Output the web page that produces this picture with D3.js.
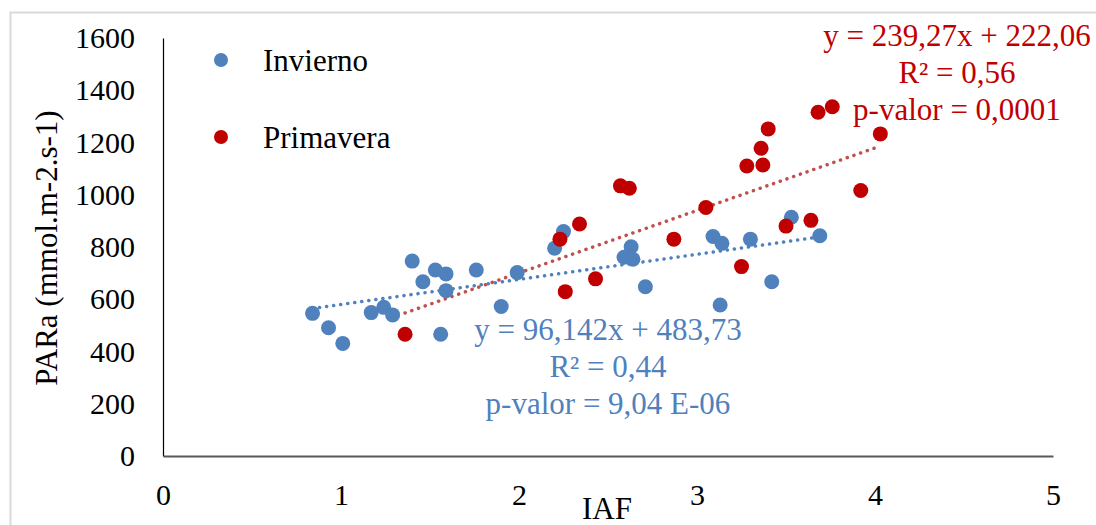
<!DOCTYPE html>
<html lang="es">
<head>
<meta charset="UTF-8" />
<title>PARa vs IAF</title>
<script src="https://cdn.jsdelivr.net/npm/d3@7"></script>
<style>
  body { margin: 0; background: #fff; }
  svg { display: block; }
  svg text { font-family: "Liberation Serif", "Times New Roman", serif; }
  .tick-label { font-size: 30px; fill: #000; }
</style>
</head>
<body>
<svg id="chart"></svg>
<script>
// ---- data ----
const inviernoIAF = [0.84, 0.93, 1.01, 1.17, 1.24, 1.29, 1.40, 1.46, 1.53, 1.59, 1.59, 1.76, 1.56, 1.90,
                     1.99, 2.20, 2.25, 2.63, 2.59, 2.64, 2.71, 3.09, 3.14, 3.30, 3.42, 3.13, 3.53, 3.69];
const inviernoPAR = [546, 491, 431, 549, 569, 540, 746, 667, 712, 697, 633, 712, 466, 572,
                     702, 795, 859, 801, 761, 753, 648, 840, 814, 830, 667, 578, 914, 843];

const primaveraIAF = [1.36, 2.23, 2.34, 2.26, 2.43, 2.57, 2.62, 2.87, 3.05, 3.25,
                      3.28, 3.37, 3.36, 3.40, 3.50, 3.64, 3.68, 3.76, 4.03, 3.92];
const primaveraPAR = [466, 830, 888, 629, 678, 1034, 1025, 830, 951, 725,
                      1110, 1114, 1178, 1252, 880, 902, 1316, 1337, 1233, 1016];

const seriesNames = ["Invierno", "Primavera"];
// trend line coefficients as printed on the chart
const inviernoFit = { slope: 96.142, intercept: 483.73 };
const primaveraFit = { slope: 239.27, intercept: 222.06 };
const inviernoLabels = ["y = 96,142x + 483,73", "R² = 0,44", "p-valor = 9,04 E-06"];
const primaveraLabels = ["y = 239,27x + 222,06", "R² = 0,56", "p-valor = 0,0001"];

const xTicks = [0, 1, 2, 3, 4, 5];
const yTicks = [0, 200, 400, 600, 800, 1000, 1200, 1400, 1600];

// ---- setup ----
const width = 1096, height = 525;
const blue = "#4F81BD", red = "#C00000";
const serif = "'Liberation Serif', 'Times New Roman', serif";
const svg = d3.select("#chart").attr("width", width).attr("height", height);

// chart area border (only left/top visible in the window)
svg.append("rect")
  .attr("x", 10.5).attr("y", 12.5)
  .attr("width", 1200).attr("height", 700)
  .attr("fill", "none").attr("stroke", "#d9d9d9").attr("stroke-width", 2);

const x = d3.scaleLinear().domain([0, 5]).range([163, 1053]);
const y = d3.scaleLinear().domain([0, 1600]).range([456, 38]);

// axes
const yAxis = svg.append("g")
  .attr("transform", `translate(${x(0)},0)`)
  .call(d3.axisLeft(y).tickValues(yTicks).tickFormat(d3.format("d")).tickSize(0).tickPadding(28));
yAxis.attr("font-family", serif).attr("font-size", 30);
yAxis.select(".domain").attr("stroke", "#000").attr("stroke-width", 1.2);
yAxis.selectAll("text").attr("class", "tick-label").attr("font-family", serif);

const xAxis = svg.append("g")
  .attr("transform", `translate(0,${y(0)})`)
  .call(d3.axisBottom(x).tickValues(xTicks).tickFormat(d3.format("d")).tickSize(0).tickPadding(28));
xAxis.attr("font-family", serif).attr("font-size", 30);
xAxis.select(".domain").attr("stroke", "#595959").attr("stroke-width", 1.8);
xAxis.selectAll("text").attr("class", "tick-label").attr("font-family", serif);

// axis titles
svg.append("text")
  .attr("transform", "translate(57,248) rotate(-90)")
  .attr("text-anchor", "middle")
  .attr("font-family", serif)
  .attr("font-size", 31)
  .text("PARa (mmol.m-2.s-1)");

svg.append("text")
  .attr("x", 607).attr("y", 519)
  .attr("text-anchor", "middle")
  .attr("font-family", serif)
  .attr("font-size", 31)
  .text("IAF");

// trend lines (dotted)
function trend(xs, fit, color) {
  const [x0, x1] = d3.extent(xs);
  svg.append("line")
    .attr("x1", x(x0)).attr("y1", y(fit.slope * x0 + fit.intercept))
    .attr("x2", x(x1)).attr("y2", y(fit.slope * x1 + fit.intercept))
    .attr("stroke", color)
    .attr("stroke-width", 3.5)
    .attr("stroke-linecap", "round")
    .attr("stroke-dasharray", "0.1 7");
}
trend(inviernoIAF, inviernoFit, blue);
trend(primaveraIAF, primaveraFit, "#C0504D");

// points
function points(xs, ys, color) {
  svg.append("g").selectAll("circle")
    .data(xs.map((d, i) => [d, ys[i]]))
    .join("circle")
    .attr("cx", d => x(d[0]))
    .attr("cy", d => y(d[1]))
    .attr("r", 7.5)
    .attr("fill", color);
}
points(inviernoIAF, inviernoPAR, blue);
points(primaveraIAF, primaveraPAR, red);

// legend
const legend = svg.append("g");
seriesNames.forEach((name, i) => {
  const row = legend.append("g").attr("transform", `translate(221,${60 + i * 77})`);
  row.append("circle").attr("r", 7).attr("fill", i === 0 ? blue : red);
  row.append("text").attr("x", 42).attr("y", 11)
    .attr("font-family", serif).attr("font-size", 31).text(name);
});

// equation annotations
function annot(lines, cx, y0, color) {
  lines.forEach((t, i) => {
    svg.append("text")
      .attr("x", cx).attr("y", y0 + i * 37)
      .attr("text-anchor", "middle")
      .attr("font-family", serif)
      .attr("font-size", 31)
      .attr("fill", color)
      .text(t);
  });
}
annot(inviernoLabels, 608, 340, blue);
annot(primaveraLabels, 957, 46, red);
</script>
</body>
</html>
